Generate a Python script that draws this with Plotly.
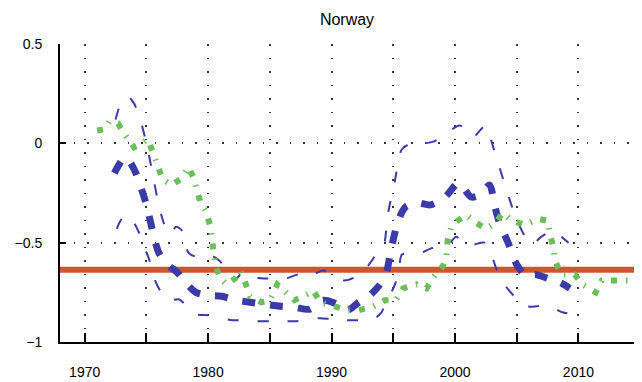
import plotly.graph_objects as go

# ---- data ----
med_years = [1972.4, 1973.3, 1974.0, 1974.6, 1975.0, 1975.5, 1976.0, 1976.7, 1977.5, 1978.3,
             1979.0, 1980.0, 1981.1, 1982.3, 1983.4, 1984.6, 1985.9, 1987.0, 1988.2, 1989.3,
             1990.5, 1991.3, 1992.2, 1993.0, 1993.8, 1994.4, 1994.8, 1995.4, 1996.0, 1997.0,
             1998.0, 1999.2, 2000.3, 2001.3, 2002.0, 2002.8, 2003.2, 2003.6, 2004.3, 2005.0,
             2005.8, 2006.5, 2007.5, 2008.5, 2009.3]
med_vals = [-0.15, -0.07, -0.13, -0.23, -0.31, -0.44, -0.55, -0.61, -0.65, -0.71,
            -0.75, -0.765, -0.77, -0.79, -0.80, -0.81, -0.82, -0.825, -0.835, -0.79,
            -0.81, -0.84, -0.80, -0.77, -0.72, -0.66, -0.54, -0.39, -0.32, -0.30,
            -0.31, -0.27, -0.20, -0.27, -0.26, -0.21, -0.31, -0.40, -0.50, -0.61,
            -0.67, -0.66, -0.68, -0.70, -0.73]

up_years = [1972.5, 1973.0, 1973.5, 1974.0, 1974.5, 1975.0, 1975.4, 1975.9, 1976.4, 1976.9,
            1977.4, 1977.9, 1978.4, 1979.0, 1980.0, 1980.9, 1981.6, 1982.1, 1982.8, 1983.5,
            1984.5, 1985.5, 1986.3, 1987.3, 1988.2, 1989.3, 1990.0, 1991.0, 1992.0, 1992.9,
            1993.6, 1994.2, 1994.55, 1995.1, 1995.7, 1996.5, 1997.5, 1998.3, 1999.3, 2000.4,
            2001.4, 2002.5, 2003.0, 2003.4, 2004.1, 2004.8, 2005.5, 2006.2, 2007.0, 2008.0,
            2008.6, 2009.2]
up_vals = [0.12, 0.21, 0.235, 0.20, 0.12, 0.00, -0.12, -0.28, -0.40, -0.46,
           -0.42, -0.44, -0.55, -0.57, -0.56, -0.59, -0.65, -0.69, -0.65, -0.67,
           -0.68, -0.68, -0.68, -0.66, -0.67, -0.64, -0.66, -0.69, -0.67, -0.62,
           -0.56, -0.52, -0.36, -0.20, -0.03, 0.0, 0.0, 0.01, 0.05, 0.09,
           0.03, 0.09, 0.0, -0.08, -0.22, -0.35, -0.45, -0.51, -0.47, -0.44,
           -0.47, -0.50]

lo_years = [1972.6, 1973.0, 1973.5, 1974.0, 1974.4, 1974.8, 1975.2, 1975.7, 1976.2, 1976.8,
            1977.6, 1978.3, 1979.0, 1980.0, 1981.0, 1982.0, 1983.0, 1984.0, 1985.0, 1986.0,
            1987.0, 1988.0, 1989.0, 1990.0, 1991.0, 1992.0, 1993.0, 1993.5, 1994.0, 1994.5,
            1995.0, 1995.4, 1995.7, 1996.3, 1997.3, 1998.0, 1998.7, 1999.3, 2000.1, 2000.8,
            2001.5, 2002.4, 2003.0, 2003.4, 2004.0, 2004.8, 2005.8, 2006.6, 2007.3, 2008.0,
            2008.7, 2009.1]
lo_vals = [-0.43, -0.38, -0.36, -0.40, -0.45, -0.52, -0.58, -0.69, -0.75, -0.79,
           -0.785, -0.82, -0.86, -0.865, -0.88, -0.89, -0.89, -0.895, -0.895, -0.895,
           -0.895, -0.89, -0.88, -0.885, -0.89, -0.89, -0.89, -0.88, -0.855, -0.79,
           -0.73, -0.66, -0.56, -0.555, -0.55, -0.53, -0.52, -0.52, -0.47, -0.51,
           -0.51, -0.50, -0.57, -0.64, -0.71, -0.77, -0.82, -0.82, -0.815, -0.83,
           -0.85, -0.855]

grn_years = [1971.0, 1971.6, 1972.0, 1972.7, 1973.3, 1974.0, 1974.6, 1975.1, 1975.5, 1975.9,
             1976.3, 1977.0, 1977.8, 1978.4, 1978.8, 1979.1, 1979.4, 1979.8, 1980.2, 1980.3,
             1980.4, 1980.6, 1981.0, 1981.5, 1982.2, 1982.6, 1983.0, 1983.4, 1984.3, 1985.0,
             1985.6, 1986.3, 1987.0, 1988.0, 1988.5, 1989.1, 1990.1, 1991.3, 1992.2, 1993.4,
             1994.3, 1995.2, 1995.8, 1996.9, 1997.7, 1998.3, 1999.0, 1999.3, 1999.4, 1999.7,
             2000.2, 2000.9, 2001.7, 2002.5, 2003.3, 2003.85, 2004.6, 2005.7, 2006.75, 2007.5,
             2007.7, 2008.0, 2008.1, 2008.6, 2009.7, 2010.3, 2011.4, 2011.9, 2013.0, 2014.5]
grn_vals = [0.065, 0.07, 0.11, 0.10, 0.04, -0.02, 0.0, 0.02, -0.04, -0.12,
            -0.18, -0.21, -0.18, -0.12, -0.17, -0.24, -0.30, -0.34, -0.42, -0.48,
            -0.54, -0.62, -0.68, -0.71, -0.68, -0.64, -0.70, -0.77, -0.80, -0.79,
            -0.71, -0.75, -0.79, -0.76, -0.74, -0.80, -0.82, -0.84, -0.84, -0.82,
            -0.79, -0.79, -0.73, -0.71, -0.73, -0.67, -0.62, -0.57, -0.49, -0.42,
            -0.39, -0.36, -0.40, -0.43, -0.40, -0.35, -0.39, -0.41, -0.38, -0.39,
            -0.46, -0.53, -0.59, -0.66, -0.66, -0.71, -0.75, -0.69, -0.69, -0.69]

mean_years = [1968, 2014.5]
mean_vals = [-0.636, -0.636]

x_ticks = [1970, 1975, 1980, 1985, 1990, 1995, 2000, 2005, 2010]
x_labels = ["1970", "", "1980", "", "1990", "", "2000", "", "2010"]
y_ticks = [-1, -0.5, 0, 0.5]
y_labels = ["\u22121", "\u22120.5", "0", "0.5"]

BLUE = "rgb(58,58,168)"
GREEN = "rgb(108,190,88)"
ORANGE = "rgb(208,84,46)"

fig = go.Figure()
fig.add_trace(go.Scatter(x=mean_years, y=mean_vals, mode="lines",
                         line=dict(color=ORANGE, width=6)))
fig.add_trace(go.Scatter(x=up_years, y=up_vals, mode="lines", line_shape="spline",
                         line=dict(color=BLUE, width=2, dash="11px,19px", smoothing=0.8)))
fig.add_trace(go.Scatter(x=lo_years, y=lo_vals, mode="lines", line_shape="spline",
                         line=dict(color=BLUE, width=2, dash="11px,19px", smoothing=0.8)))
fig.add_trace(go.Scatter(x=med_years, y=med_vals, mode="lines", line_shape="spline",
                         line=dict(color=BLUE, width=7, dash="13px,15px", smoothing=0.8)))
fig.add_trace(go.Scatter(x=grn_years, y=grn_vals, mode="lines",
                         line=dict(color=GREEN, width=6, dash="6px,9px,1.5px,9px")))

FONT = "Liberation Sans, Arial, sans-serif"
fig.update_layout(
    width=642, height=382,
    margin=dict(l=60, r=8, t=44, b=40, autoexpand=False),
    paper_bgcolor="white", plot_bgcolor="white",
    showlegend=False,
    font=dict(family=FONT, size=14, color="black"),
    title=dict(text="Norway", x=347 / 642, xanchor="center",
               y=1 - 19 / 382, yanchor="middle", yref="container", automargin=False,
               font=dict(family=FONT, size=16, color="black")),
)
fig.update_xaxes(range=[1968, 2014.5], tickvals=x_ticks, ticktext=x_labels,
                 automargin=False,
                 showline=True, linecolor="black", linewidth=2,
                 ticks="inside", ticklen=9, tickwidth=2, tickcolor="black",
                 showgrid=True, gridcolor="rgba(0,0,0,0.8)", gridwidth=1.5,
                 griddash="1.5px,12px", zeroline=False, ticklabelstandoff=16)
fig.update_yaxes(range=[-1, 0.5], tickvals=y_ticks, ticktext=y_labels,
                 automargin=False,
                 showline=True, linecolor="black", linewidth=2,
                 ticks="inside", ticklen=6, tickwidth=2, tickcolor="black",
                 showgrid=True, gridcolor="rgba(0,0,0,0.8)", gridwidth=1.5,
                 griddash="1.5px,12px", zeroline=False, ticklabelstandoff=13)

fig.write_html("out.html")
